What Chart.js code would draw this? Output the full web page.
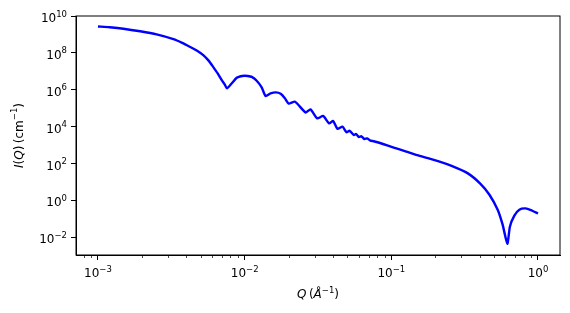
<!DOCTYPE html>
<html>
<head>
<meta charset="utf-8">
<script src="https://cdn.jsdelivr.net/npm/chart.js@4"></script>
<style>
    html, body { margin: 0; padding: 0; background: #fff; }
    #wrap { width: 570px; height: 313px; }
</style>
</head>
<body>
<div id="wrap"><canvas id="myChart" width="570" height="313"></canvas></div>
<script>
// values (Q in 1/A, I in 1/cm)
var qValues = [
    0.001, 0.0012, 0.00149, 0.00194, 0.00251, 0.00327, 0.00375, 0.00425, 0.00474, 0.00522,
    0.00568, 0.00611, 0.00653, 0.00698, 0.00729, 0.00759,
    0.00817, 0.00883, 0.0094, 0.00993, 0.0105, 0.01117, 0.01208, 0.01306, 0.0139,
    0.0150, 0.01633, 0.0176, 0.0188, 0.01995,
    0.02208, 0.026, 0.0281, 0.03126, 0.03428, 0.03767, 0.04009, 0.04295, 0.04645,
    0.04943, 0.052, 0.0555, 0.0575, 0.060, 0.0625, 0.0655, 0.0685, 0.072, 0.076,
    0.0877, 0.1026, 0.1265, 0.156, 0.2133, 0.2576, 0.3306, 0.4055, 0.4667, 0.531,
    0.574, 0.618, 0.644, 0.690, 0.746, 0.822, 0.895, 1.0
];
var iValues = [
    2.7e9, 2.45e9, 2.05e9, 1.48e9, 1.0e9, 5.5e8, 3.47e8, 2.1e8, 1.32e8, 7.6e7,
    3.8e7, 1.7e7, 7.9e6, 3.3e6, 2.04e6, 1.2e6,
    2.24e6, 4.47e6, 5.4e6, 5.75e6, 5.6e6, 5.0e6, 3.1e6, 1.35e6, 4.6e5,
    6.3e5, 7.2e5, 6.0e5, 3.5e5, 1.8e5,
    2.24e5, 5.9e4, 8.7e4, 2.8e4, 3.8e4, 1.5e4, 2.04e4, 7.6e3, 1.0e4,
    5.0e3, 6.0e3, 3.55e3, 4.0e3, 2.75e3, 3.0e3, 2.14e3, 2.3e3, 1.74e3, 1.62e3,
    1.15e3, 760, 447, 263, 128, 75, 30.3, 8.0, 2.04, 0.316,
    0.049, 0.0045, 0.039, 0.15, 0.316, 0.37, 0.30, 0.195
];
var xTicks = [1e-3, 1e-2, 1e-1, 1];
var yTicks = [1e-2, 1, 1e2, 1e4, 1e6, 1e8, 1e10];

var FONT = 'DejaVu Sans';
var BASE = 12;
var SUP = 8.5;

function fontOf(r) {
    var size = r.sup ? SUP : BASE;
    return (r.it ? 'italic ' : '') + size + 'px "' + FONT + '"';
}

function runsWidth(ctx, runs) {
    var w = 0;
    for (var k = 0; k < runs.length; k++) {
        if (runs[k].gap) { w += runs[k].gap; continue; }
        ctx.font = fontOf(runs[k]);
        w += ctx.measureText(runs[k].t).width;
    }
    return w;
}

// draws mixed italic / superscript text, x is the left start, y the baseline
function drawRuns(ctx, runs, x, y) {
    ctx.textAlign = 'left';
    ctx.textBaseline = 'alphabetic';
    for (var k = 0; k < runs.length; k++) {
        var r = runs[k];
        if (r.gap) { x += r.gap; continue; }
        ctx.font = fontOf(r);
        ctx.fillText(r.t, x, r.sup ? y - 5.5 : y);
        x += ctx.measureText(r.t).width;
    }
}

function powRuns(v) {
    var e = Math.round(Math.log10(v));
    var s = String(Math.abs(e));
    if (e < 0) s = '\u2212' + s;
    return [{ t: '10' }, { t: s, sup: true }];
}

var xTitle = [{ t: 'Q', it: true }, { gap: 2.5 }, { t: '(' }, { t: '\u00C5', it: true },
    { t: '\u22121', sup: true }, { t: ')' }];
var yTitle = [{ t: 'I', it: true }, { t: '(' }, { t: 'Q', it: true }, { t: ')' }, { gap: 2.5 },
    { t: '(cm' }, { t: '\u22121', sup: true }, { t: ')' }];

var pts = [];
for (var k = 0; k < qValues.length; k++) {
    pts.push({ x: qValues[k], y: iValues[k] });
}

// box round the plot, minor ticks on x, tick labels and axis titles
var framePlugin = {
    id: 'frame',
    afterDraw: function (chart) {
        var ctx = chart.ctx;
        var a = chart.chartArea;
        var xs = chart.scales.x;
        var ys = chart.scales.y;
        ctx.save();
        ctx.strokeStyle = '#000';
        ctx.lineWidth = 1;
        ctx.strokeRect(a.left, a.top, a.right - a.left, a.bottom - a.top);
        ctx.lineWidth = 0.7;
        ctx.beginPath();
        for (var d = -4; d <= 0; d++) {
            for (var m = 2; m <= 9; m++) {
                var v = m * Math.pow(10, d);
                if (v < xs.min || v > xs.max) continue;
                var px = Math.round(xs.getPixelForValue(v)) + 0.5;
                ctx.moveTo(px, a.bottom);
                ctx.lineTo(px, a.bottom + 3);
            }
        }
        ctx.stroke();

        ctx.fillStyle = '#000';
        xTicks.forEach(function (v) {
            var r = powRuns(v);
            var w = runsWidth(ctx, r);
            drawRuns(ctx, r, xs.getPixelForValue(v) - w / 2, a.bottom + 22);
        });
        yTicks.forEach(function (v) {
            var r = powRuns(v);
            var w = runsWidth(ctx, r);
            drawRuns(ctx, r, a.left - 9 - w, ys.getPixelForValue(v) + 6);
        });

        var wx = runsWidth(ctx, xTitle);
        drawRuns(ctx, xTitle, (a.left + a.right) / 2 - wx / 2, 298);

        var wy = runsWidth(ctx, yTitle);
        ctx.translate(22.5, (a.top + a.bottom) / 2);
        ctx.rotate(-Math.PI / 2);
        drawRuns(ctx, yTitle, -wy / 2, 0);
        ctx.restore();
    }
};

var ctx = document.getElementById('myChart').getContext('2d');
var myChart = new Chart(ctx, {
    type: 'line',
    data: {
        datasets: [{
            data: pts,
            borderColor: '#0000ff',
            borderWidth: 2.4,
            pointRadius: 0,
            fill: false,
            tension: 0.2
        }]
    },
    options: {
        responsive: false,
        animation: false,
        devicePixelRatio: 1,
        layout: { padding: { top: 16, right: 10, bottom: 0, left: 0 } },
        plugins: { legend: { display: false }, tooltip: { enabled: false } },
        scales: {
            x: {
                type: 'logarithmic',
                bounds: 'data',
                min: 7.08e-4,
                max: 1.413,
                afterBuildTicks: function (axis) {
                    axis.ticks = xTicks.map(function (v) { return { value: v }; });
                },
                afterFit: function (axis) { axis.height = 58; },
                ticks: {
                    autoSkip: false,
                    maxRotation: 0,
                    callback: function () { return ''; }
                },
                grid: { drawOnChartArea: false, tickLength: 5, tickColor: '#000' },
                border: { color: '#000' }
            },
            y: {
                type: 'logarithmic',
                bounds: 'data',
                min: 1.1e-3,
                max: 1e10,
                afterBuildTicks: function (axis) {
                    axis.ticks = yTicks.map(function (v) { return { value: v }; });
                },
                afterFit: function (axis) { axis.width = 76; },
                ticks: {
                    autoSkip: false,
                    callback: function () { return ''; }
                },
                grid: { drawOnChartArea: false, tickLength: 5, tickColor: '#000' },
                border: { color: '#000' }
            }
        }
    },
    plugins: [framePlugin]
});
</script>
</body>
</html>
